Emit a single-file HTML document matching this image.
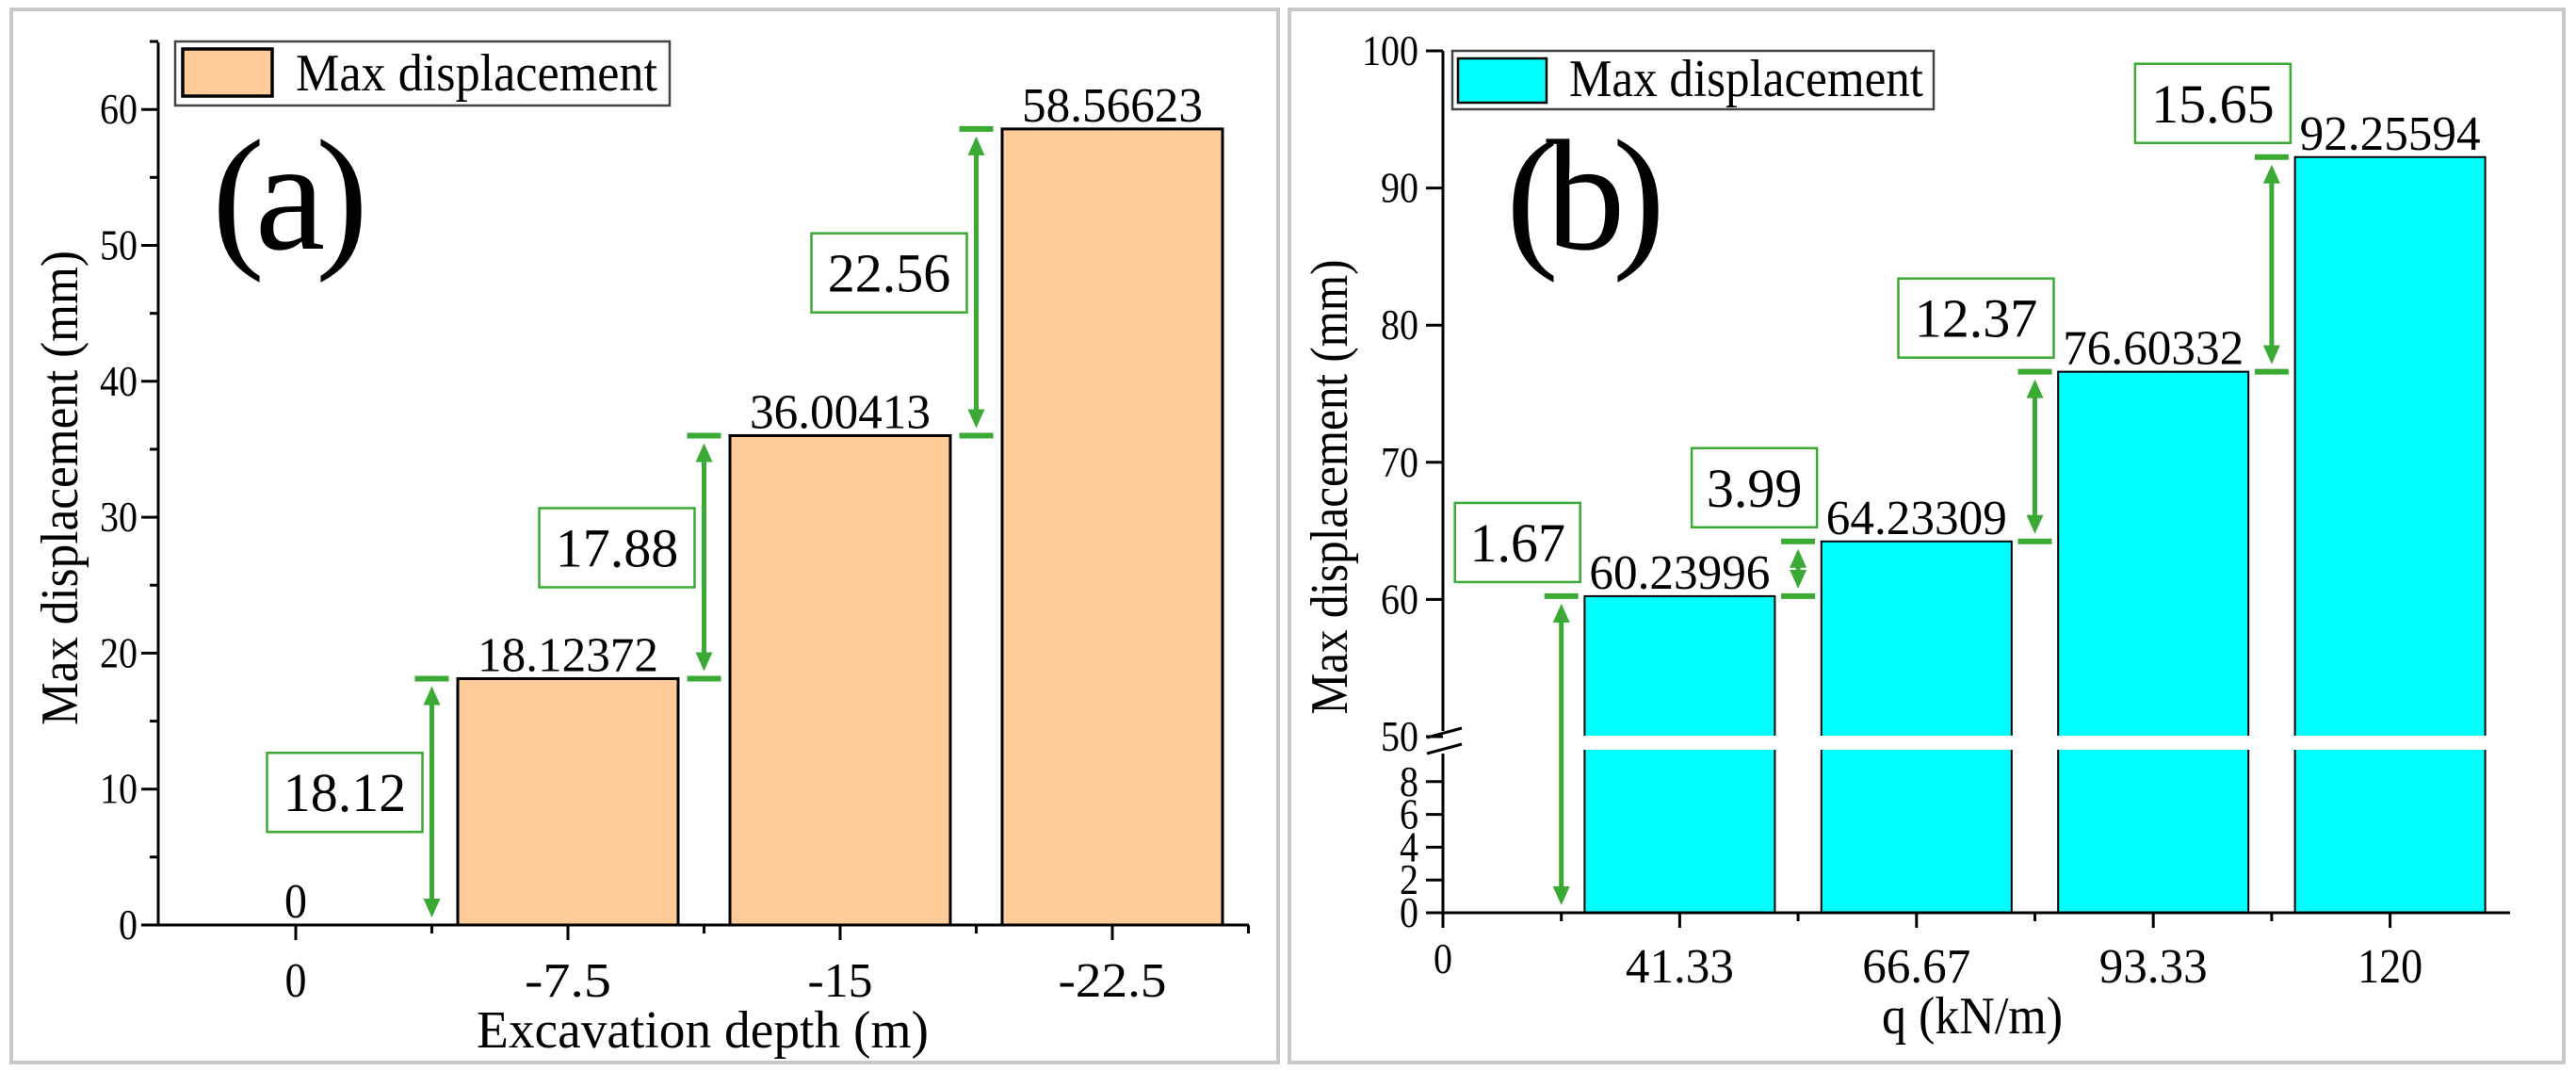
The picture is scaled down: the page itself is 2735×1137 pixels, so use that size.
<!DOCTYPE html>
<html><head><meta charset="utf-8"><style>
html,body{margin:0;padding:0;background:#fff}
svg{display:block}
</style></head><body>
<svg id="chart" xmlns="http://www.w3.org/2000/svg" width="2735" height="1137" viewBox="0 0 2735 1137">
<rect x="0" y="0" width="2735" height="1137" fill="#fff"/>
<rect x="12" y="10" width="1345" height="1118" fill="none" stroke="#c8c8c8" stroke-width="4"/>
<rect x="1369" y="10" width="1353" height="1118" fill="none" stroke="#c8c8c8" stroke-width="4"/>
<g id="ga"></g>
<g id="gb"></g>
</svg>
<script>
// Panel (a) data
const catsA = ["0", "-7.5", "-15", "-22.5"];
const valsA = [0, 18.12372, 36.00413, 58.56623];
const valLabelsA = ["0", "18.12372", "36.00413", "58.56623"];
const diffLabelsA = ["18.12", "17.88", "22.56"];
const yTicksA = [0, 10, 20, 30, 40, 50, 60];
// Panel (b) data
const catsB = ["41.33", "66.67", "93.33", "120"];
const valsB = [60.23996, 64.23309, 76.60332, 92.25594];
const valLabelsB = ["60.23996", "64.23309", "76.60332", "92.25594"];
const diffLabelsB = ["1.67", "3.99", "12.37", "15.65"];
const yTicksBUpper = [50, 60, 70, 80, 90, 100];
const yTicksBLower = [0, 2, 4, 6, 8];

const NS = "http://www.w3.org/2000/svg";
const GREEN = "#3aaa35";
const MONO = '"Liberation Serif", "Noto Serif CJK SC", serif';
function el(parent, tag, attrs) {
  const e = document.createElementNS(NS, tag);
  for (const k in attrs) e.setAttribute(k, attrs[k]);
  parent.appendChild(e);
  return e;
}
function txt(parent, x, y, s, size, cw, anchor, fam) {
  const t = el(parent, "text", {x: x, y: y, "font-size": size, "text-anchor": anchor || "middle",
    "font-family": fam || MONO, fill: "#000"});
  if (cw) { t.setAttribute("textLength", cw * s.length); t.setAttribute("lengthAdjust", "spacingAndGlyphs"); }
  t.textContent = s;
  return t;
}
function arrow(parent, x, y1, y2, bottomCap) {
  const g = el(parent, "g", {});
  
  
  if (bottomCap) el(g, "line", {x1: x - 18, x2: x + 18, y1: y1, y2: y1, stroke: GREEN, "stroke-width": 6});
  el(g, "line", {x1: x - 18, x2: x + 18, y1: y2, y2: y2, stroke: GREEN, "stroke-width": 6});
  el(g, "line", {x1: x, x2: x, y1: y1 - 20, y2: y2 + 20, stroke: GREEN, "stroke-width": 5});
  el(g, "path", {d: `M${x-9},${y2+28} L${x},${y2+8} L${x+9},${y2+28} Z`, fill: GREEN});
  el(g, "path", {d: `M${x-9},${y1-28} L${x},${y1-8} L${x+9},${y1-28} Z`, fill: GREEN});
}
function diffBox(parent, xr, ycen, s) {
  const w = s.length >= 5 ? 165 : 133, h = 84;
  const g = el(parent, "g", {});
  
  
  el(g, "rect", {x: xr - w, y: ycen - h/2, width: w, height: h, fill: "#fff", stroke: GREEN, "stroke-width": 2.5});
  txt(g, xr - w/2, ycen + 20, s, 58, 0, "middle", '"Liberation Serif", serif');
}

// ---------- Panel A ----------
(function(){
  const g = document.getElementById("ga");
  const x0 = 168, yBase = 982, xr = 1326, yTop = 45;
  const xs = i => 314 + i * 289;
  const ys = v => yBase - v * 14.43;
  const bw = 234;
  for (let i = 0; i < valsA.length; i++) {
    if (valsA[i] <= 0) continue;
    const r = el(g, "rect", {x: xs(i) - bw/2, y: ys(valsA[i]), width: bw, height: yBase - ys(valsA[i]), fill: "#ffcc99", stroke: "#000", "stroke-width": 3});
    
    
  }
  const ax = el(g, "path", {d: `M${x0},${yTop} L${x0},${yBase} L${xr},${yBase}`, fill: "none", stroke: "#000", "stroke-width": 3});
  
  
  for (let v = 0; v <= 65; v += 5) {
    const major = v % 10 === 0;
    el(g, "line", {x1: x0 - (major ? 18 : 9), x2: x0, y1: ys(v), y2: ys(v), stroke: "#000", "stroke-width": 3});
  }
  yTicksA.forEach(v => {
    const t = txt(g, 146, ys(v) + 15, String(v), 46, 20, "end");
    
    
  });
  for (let i = 0; i < catsA.length; i++) {
    el(g, "line", {x1: xs(i), x2: xs(i), y1: yBase, y2: yBase + 16, stroke: "#000", "stroke-width": 3});
    el(g, "line", {x1: xs(i) + 144.5, x2: xs(i) + 144.5, y1: yBase, y2: yBase + 9, stroke: "#000", "stroke-width": 3});
    const t = txt(g, xs(i), 1058, catsA[i], 52, 23, "middle");
    
    
    const vl = txt(g, xs(i), ys(valsA[i]) - 8, valLabelsA[i], 52, 24, "middle");
    
    
  }
  for (let i = 1; i < valsA.length; i++) {
    const ax_ = xs(i) - 144.5;
    const y1 = ys(valsA[i-1]), y2 = ys(valsA[i]);
    arrow(g, ax_, y1, y2, i > 1);
    diffBox(g, ax_ - 10, (y1 + y2) / 2 - 10, diffLabelsA[i-1]);
  }
  const xt = txt(g, 746, 1112, "Excavation depth (m)", 56, 24, "middle");
  
  
  const yt = txt(g, 0, 0, "Max displacement (mm)", 56, 24, "middle");
  yt.setAttribute("transform", "translate(82,518) rotate(-90)");
  
  
  const lg = el(g, "g", {});
  
  
  el(lg, "rect", {x: 186, y: 44, width: 525, height: 68, fill: "#fff", stroke: "#444", "stroke-width": 2.5});
  el(lg, "rect", {x: 194, y: 52, width: 95, height: 50, fill: "#ffcc99", stroke: "#000", "stroke-width": 3.5});
  txt(lg, 314, 96, "Max displacement", 56, 24, "start");
  const pl = txt(g, 225, 264, "(a)", 168, 0, "start", '"Liberation Serif", serif');
  pl.setAttribute("textLength", 166);
  
  
})();

// ---------- Panel B ----------
(function(){
  const g = document.getElementById("gb");
  const x0 = 1532, yBase = 969, xr = 2665, yTop = 54;
  const xs = i => x0 + i * 251.4;
  const ys = v => v >= 50 ? 782 - (v - 50) * 14.56 : yBase - v * 17.4;
  const bw = 202;
  for (let i = 0; i < valsB.length; i++) {
    const cx = xs(i + 1);
    const r = el(g, "rect", {x: cx - bw/2, y: ys(valsB[i]), width: bw, height: yBase - ys(valsB[i]), fill: "#00ffff", stroke: "#000", "stroke-width": 2});
    
    
    el(g, "rect", {x: cx - bw/2 - 3, y: 781, width: bw + 6, height: 15, fill: "#fff"});
  }
  const ax = el(g, "path", {d: `M${x0},${yTop} L${x0},776 M${x0},800 L${x0},${yBase} L${xr},${yBase}`, fill: "none", stroke: "#000", "stroke-width": 3});
  
  
  el(g, "line", {x1: 1515, y1: 783, x2: 1552, y2: 773, stroke: "#000", "stroke-width": 3});
  el(g, "line", {x1: 1515, y1: 800, x2: 1552, y2: 790, stroke: "#000", "stroke-width": 3});
  yTicksBUpper.concat(yTicksBLower).forEach(v => {
    el(g, "line", {x1: x0 - 18, x2: x0, y1: ys(v), y2: ys(v), stroke: "#000", "stroke-width": 3});
    const t = txt(g, 1506, ys(v) + 15, String(v), 46, 20, "end");
    
    
  });
  const z = txt(g, x0, 1033, "0", 46, 20, "middle");
  
  
  el(g, "line", {x1: x0, x2: x0, y1: yBase, y2: yBase + 16, stroke: "#000", "stroke-width": 3});
  for (let i = 0; i < catsB.length; i++) {
    const cx = xs(i + 1);
    el(g, "line", {x1: cx, x2: cx, y1: yBase, y2: yBase + 16, stroke: "#000", "stroke-width": 3});
    el(g, "line", {x1: cx - 125.7, x2: cx - 125.7, y1: yBase, y2: yBase + 9, stroke: "#000", "stroke-width": 3});
    const t = txt(g, cx, 1043, catsB[i], 52, 23, "middle");
    
    
    const vl = txt(g, cx, ys(valsB[i]) - 8, valLabelsB[i], 52, 24, "middle");
    
    
    const axx = cx - 125.7;
    const y1 = i === 0 ? yBase : ys(valsB[i-1]);
    const y2 = ys(valsB[i]);
    arrow(g, axx, y1, y2, i > 0);
    diffBox(g, axx + 20, y2 - 15 - 42, diffLabelsB[i]);
  }
  const xt = txt(g, 2094, 1097, "q (kN/m)", 56, 24, "middle");
  
  
  const yt = txt(g, 0, 0, "Max displacement (mm)", 56, 23, "middle");
  yt.setAttribute("transform", "translate(1430,517) rotate(-90)");
  
  
  const lg = el(g, "g", {});
  
  
  el(lg, "rect", {x: 1542, y: 54, width: 511, height: 62, fill: "#fff", stroke: "#444", "stroke-width": 2.5});
  el(lg, "rect", {x: 1548, y: 62, width: 94, height: 47, fill: "#00ffff", stroke: "#000", "stroke-width": 2.5});
  txt(lg, 1666, 102, "Max displacement", 56, 23.5, "start");
  const pl = txt(g, 1599, 264, "(b)", 168, 0, "start", '"Liberation Serif", serif');
  pl.setAttribute("textLength", 169);
  
  
})();
</script>
</body></html>
